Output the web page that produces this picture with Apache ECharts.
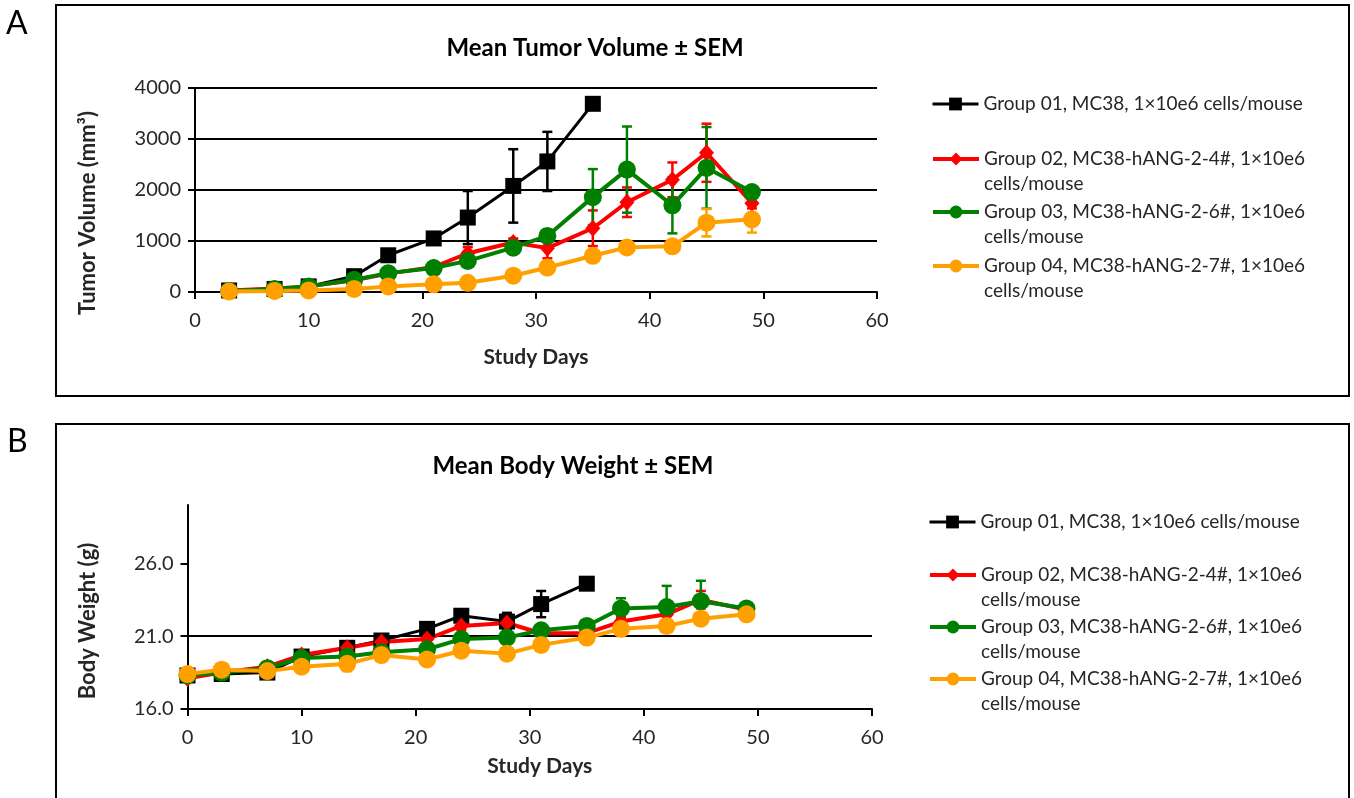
<!DOCTYPE html>
<html>
<head>
<meta charset="utf-8">
<script src="https://cdn.jsdelivr.net/npm/echarts@6/dist/echarts.min.js"></script>
<style>
html,body{margin:0;padding:0;background:#fff;}
#c{width:1354px;height:798px;}
</style>
</head>
<body>
<div id="c"></div>
<script>
// ---------- DATA ----------
var groupNames = [
  'Group 01, MC38, 1\u00d710e6 cells/mouse',
  'Group 02, MC38-hANG-2-4#, 1\u00d710e6\ncells/mouse',
  'Group 03, MC38-hANG-2-6#, 1\u00d710e6\ncells/mouse',
  'Group 04, MC38-hANG-2-7#, 1\u00d710e6\ncells/mouse'
];

// Panel A: tumor volume (mm3)
var tvDays = [3, 7, 10, 14, 17, 21, 24, 28, 31, 35, 38, 42, 45, 49];
var tvG1 = [30, 60, 110, 310, 720, 1050, 1460, 2080, 2560, 3690];
var tvG1Sem = [5, 10, 20, 50, 110, 120, 520, 720, 580, 0];
var tvG2 = [30, 70, 110, 230, 360, 490, 760, 970, 860, 1250, 1760, 2200, 2730, 1740];
var tvG2Sem = [5, 10, 15, 30, 50, 60, 120, 80, 200, 350, 290, 340, 570, 100];
var tvG3 = [20, 60, 110, 240, 370, 470, 610, 870, 1100, 1860, 2400, 1700, 2435, 1960];
var tvG3Sem = [5, 10, 15, 30, 50, 60, 90, 100, 120, 550, 845, 550, 800, 80];
var tvG4 = [10, 20, 30, 60, 110, 150, 180, 320, 480, 710, 875, 895, 1360, 1425];
var tvG4Sem = [2, 3, 5, 10, 15, 20, 30, 40, 60, 70, 60, 80, 270, 260];

// Panel B: body weight (g)
var bwDays = [0, 3, 7, 10, 14, 17, 21, 24, 28, 31, 35, 38, 42, 45, 49];
var bwG1 = [18.3, 18.4, 18.5, 19.6, 20.2, 20.7, 21.5, 22.4, 22.0, 23.2, 24.6];
var bwG1Sem = [0.1, 0.1, 0.2, 0.2, 0.3, 0.3, 0.3, 0.3, 0.6, 0.9, 0];
var bwG2 = [18.1, 18.5, 18.9, 19.7, 20.2, 20.6, 20.8, 21.7, 21.9, 21.2, 21.2, 22.0, 22.5, 23.5, 22.8];
var bwG2Sem = [0.1, 0.1, 0.2, 0.2, 0.3, 0.3, 0.3, 0.3, 0.3, 0.3, 0.3, 0.3, 0.4, 0.6, 0.2];
var bwG3 = [18.3, 18.5, 18.8, 19.5, 19.6, 19.9, 20.1, 20.8, 20.9, 21.4, 21.7, 22.9, 23.0, 23.4, 22.9];
var bwG3Sem = [0.1, 0.1, 0.2, 0.2, 0.3, 0.3, 0.3, 0.3, 0.3, 0.3, 0.3, 0.7, 1.45, 1.4, 0.2];
var bwG4 = [18.4, 18.7, 18.6, 18.9, 19.1, 19.7, 19.4, 20.0, 19.8, 20.4, 20.9, 21.5, 21.7, 22.2, 22.5];
var bwG4Sem = [0.1, 0.1, 0.2, 0.2, 0.5, 0.3, 0.3, 0.3, 0.3, 0.3, 0.3, 0.3, 0.3, 0.3, 0.2];

var xTicks = [0, 10, 20, 30, 40, 50, 60];
var tvTicks = [0, 1000, 2000, 3000, 4000];
var bwTicks = [16, 21, 26];

// ---------- STYLE ----------
var FONT = 'Lato';
var TXT = '#262626';
var colors = ['#000000', '#ff0000', '#008000', '#ffa000'];
var symbols = ['rect', 'diamond', 'circle', 'circle'];
var symbolSizes = [16, [15, 17], 18, 18];
var lineWidths = [3, 4, 4, 4];

function pairs(xs, ys) {
  var out = [];
  for (var i = 0; i < ys.length; i++) out.push([xs[i], ys[i]]);
  return out;
}
function triples(xs, ys, es) {
  var out = [];
  for (var i = 0; i < ys.length; i++) out.push([xs[i], ys[i], es[i]]);
  return out;
}
function errSeries(name, idx, axisIdx, data) {
  var col = colors[idx];
  return {
    type: 'custom',
    name: name + ' SEM',
    xAxisIndex: axisIdx, yAxisIndex: axisIdx,
    silent: true,
    data: data,
    encode: { x: 0, y: 1 },
    renderItem: function (params, api) {
      var x = api.value(0), m = api.value(1), s = api.value(2);
      if (!s) return { type: 'group', children: [] };
      var p0 = api.coord([x, m - s]);
      var p1 = api.coord([x, m + s]);
      var w = 5;
      var st = { stroke: col, lineWidth: 2.5 };
      return {
        type: 'group',
        children: [
          { type: 'line', shape: { x1: p0[0], y1: p0[1], x2: p1[0], y2: p1[1] }, style: st },
          { type: 'line', shape: { x1: p0[0] - w, y1: p0[1], x2: p0[0] + w, y2: p0[1] }, style: st },
          { type: 'line', shape: { x1: p1[0] - w, y1: p1[1], x2: p1[0] + w, y2: p1[1] }, style: st }
        ]
      };
    }
  };
}
function lineSeries(name, idx, axisIdx, data) {
  return {
    type: 'line',
    name: name,
    xAxisIndex: axisIdx, yAxisIndex: axisIdx,
    data: data,
    symbol: symbols[idx],
    symbolSize: symbolSizes[idx],
    showAllSymbol: true,
    lineStyle: { color: colors[idx], width: lineWidths[idx] },
    itemStyle: { color: colors[idx] },
    animation: false
  };
}

var tvSets = [[tvG1, tvG1Sem], [tvG2, tvG2Sem], [tvG3, tvG3Sem], [tvG4, tvG4Sem]];
var bwSets = [[bwG1, bwG1Sem], [bwG2, bwG2Sem], [bwG3, bwG3Sem], [bwG4, bwG4Sem]];
var series = [];
tvSets.forEach(function (s, i) {
  series.push(errSeries(groupNames[i], i, 0, triples(tvDays, s[0], s[1])));
  series.push(lineSeries(groupNames[i], i, 0, pairs(tvDays, s[0])));
});
bwSets.forEach(function (s, i) {
  series.push(errSeries(groupNames[i], i, 1, triples(bwDays, s[0], s[1])));
  series.push(lineSeries(groupNames[i], i, 1, pairs(bwDays, s[0])));
});

function xAxis(gridIndex, nameGap, namePad) {
  return {
    type: 'value', gridIndex: gridIndex,
    min: xTicks[0], max: xTicks[xTicks.length - 1], interval: 10,
    name: 'Study Days', nameLocation: 'middle', nameGap: nameGap,
    nameTextStyle: { fontFamily: FONT, fontWeight: 'bold', fontSize: 21, color: TXT, padding: namePad },
    axisLine: { show: true, lineStyle: { color: '#000', width: 2 } },
    axisTick: { show: true, inside: false, length: 7, lineStyle: { color: '#000', width: 2 } },
    axisLabel: { fontFamily: FONT, fontSize: 20, color: TXT, margin: 19 },
    splitLine: { show: false }
  };
}

// legend components (one per item so each sits where the reference puts it)
var legendCentersA = [103, 158, 211, 265];
var legendCentersB = [521, 574, 626, 678];
var legends = [];
function addLegends(centers, left) {
  groupNames.forEach(function (n, i) {
    var twoLine = n.indexOf('\n') >= 0;
    legends.push({
      data: [n],
      left: left,
      top: twoLine ? centers[i] - 36.5 : centers[i] - 11.5,
      orient: 'vertical',
      padding: 0,
      selectedMode: false,
      itemWidth: 46, itemHeight: 16,
      itemGap: 0,
      lineStyle: { width: lineWidths[i] },
      formatter: function (name) { return name.indexOf('\n') >= 0 ? ' \n' + name : name; },
      textStyle: { fontFamily: FONT, fontSize: 19, color: TXT, lineHeight: 25 }
    });
  });
}
addLegends(legendCentersA, 931);
addLegends(legendCentersB, 928);

var option = {
  animation: false,
  backgroundColor: '#fff',
  title: [
    { text: 'Mean Tumor Volume \u00b1 SEM', left: 595, top: 36, textAlign: 'center', padding: 0,
      textStyle: { fontFamily: FONT, fontWeight: 'bold', fontSize: 24, color: '#000' } },
    { text: 'Mean Body Weight \u00b1 SEM', left: 573, top: 454, textAlign: 'center', padding: 0,
      textStyle: { fontFamily: FONT, fontWeight: 'bold', fontSize: 24, color: '#000' } }
  ],
  legend: legends,
  grid: [
    { left: 195, right: 477, top: 88, bottom: 506 },
    { left: 187.5, right: 482, top: 505, bottom: 89 }
  ],
  xAxis: [xAxis(0, 55, 0), xAxis(1, 47, [0, 0, 0, 20])],
  yAxis: [
    {
      type: 'value', gridIndex: 0,
      min: tvTicks[0], max: tvTicks[tvTicks.length - 1], interval: 1000,
      name: 'Tumor Volume (mm\u00b3)', nameLocation: 'middle', nameGap: 96,
      nameTextStyle: { fontFamily: FONT, fontWeight: 'bold', fontSize: 22, color: TXT, padding: [0, 46, 0, 0] },
      axisLine: { show: true, lineStyle: { color: '#000', width: 2 } },
      axisTick: { show: true, inside: false, length: 7, lineStyle: { color: '#000', width: 2 } },
      axisLabel: { fontFamily: FONT, fontSize: 20, color: TXT, margin: 14,
        formatter: function (v) { return String(v); } },
      splitLine: { show: true, lineStyle: { color: '#000', width: 2 } }
    },
    {
      type: 'value', gridIndex: 1,
      min: 16, max: 30, interval: 5,
      name: 'Body Weight (g)', nameLocation: 'middle', nameGap: 88.5,
      nameTextStyle: { fontFamily: FONT, fontWeight: 'bold', fontSize: 22, color: TXT, padding: [0, 28, 0, 0] },
      axisLine: { show: true, lineStyle: { color: '#000', width: 2 } },
      axisTick: { show: true, inside: false, length: 7, customValues: bwTicks, lineStyle: { color: '#000', width: 2 } },
      axisLabel: {
        fontFamily: FONT, fontSize: 20, color: TXT, margin: 14, showMaxLabel: false,
        formatter: function (v) { return bwTicks.indexOf(v) >= 0 ? v.toFixed(1) : ''; }
      },
      splitLine: { show: true, showMaxLine: false, lineStyle: { color: '#000', width: 2 } }
    }
  ],
  graphic: [
    { type: 'rect', shape: { x: 56, y: 5, width: 1293, height: 391 }, style: { fill: 'none', stroke: '#000', lineWidth: 2 }, z: -10, silent: true },
    { type: 'rect', shape: { x: 56, y: 424, width: 1293, height: 420 }, style: { fill: 'none', stroke: '#000', lineWidth: 2 }, z: -10, silent: true },
    { type: 'text', left: 6, top: 8, style: { text: 'A', fontFamily: FONT, fontSize: 32, fill: '#000' }, silent: true },
    { type: 'text', left: 7, top: 426, style: { text: 'B', fontFamily: FONT, fontSize: 32, fill: '#000' }, silent: true }
  ],
  series: series
};

var chart = echarts.init(document.getElementById('c'), null, { renderer: 'canvas' });
chart.setOption(option);
</script>
</body>
</html>
